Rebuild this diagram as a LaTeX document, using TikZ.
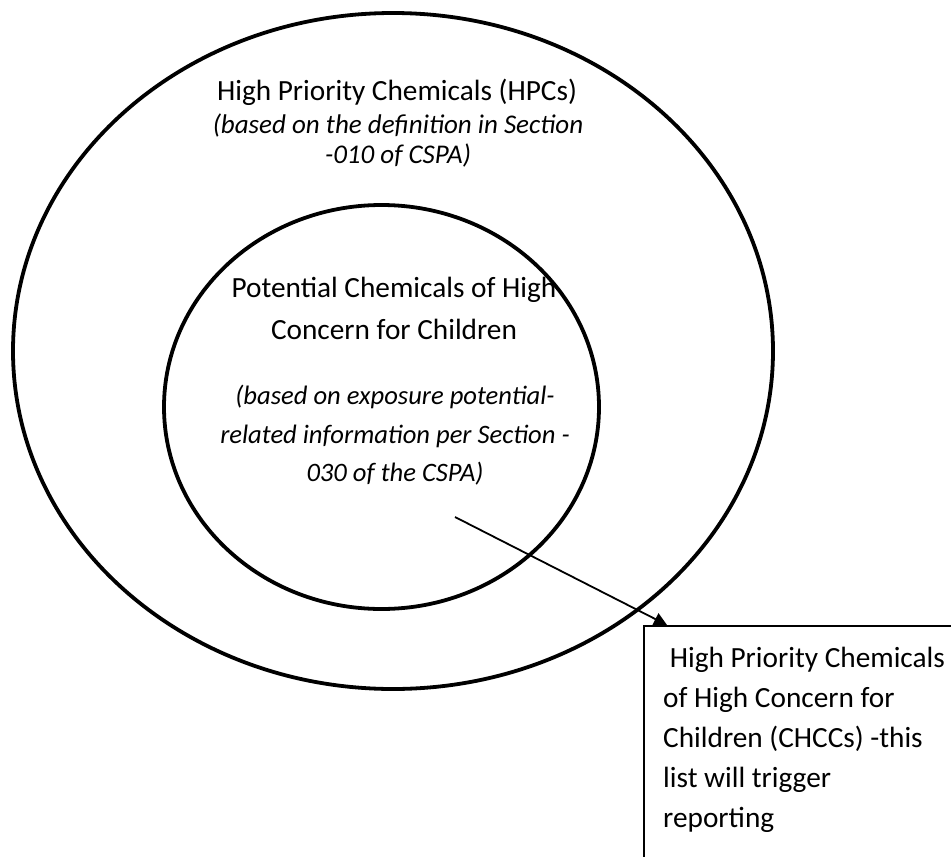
\documentclass[tikz,border=0pt]{standalone}
\usepackage{fontspec}
\setmainfont{Carlito}
\usepackage{tikz}
\usetikzlibrary{positioning, arrows.meta, shapes.geometric}
\tikzset{%
	>={Triangle[length = 13pt, width = 13pt]},
	every edge/.append style={line width = 1.8pt},
	ring/.style = {name = #1, ellipse, draw, line width = 3.8pt, inner sep = 0pt},
	txt/.style = {name = #1, align = center, inner sep = 0pt, anchor = north},
	listbox/.style = {name = #1, rectangle, draw, line width = 1.8pt, anchor = north west, minimum width = 420pt, minimum height = 300pt}
}

\begin{document}
\begin{tikzpicture}[x = 1pt, y = -1pt]
			\clip (0,0) rectangle (951,857);
			\node [ring = {hpc}, minimum width = 760pt, minimum height = 676pt] at (393,351) {};
			\node [ring = {pchcc}, minimum width = 435pt, minimum height = 404pt] at (381.5,407) {};
			\node [txt = {hpctext}, font = \fontsize{29.3}{32}\selectfont] at (397,79) {High Priority Chemicals (HPCs)};
			\node [txt = {hpcnote}, font = \fontsize{27}{29.5}\selectfont\itshape] at (398,114) {(based on the definition in Section\\-010 of CSPA)};
			\node [txt = {pchcctext}, font = \fontsize{29.3}{42}\selectfont] at (394,277) {Potential Chemicals of High\\Concern for Children};
			\node [txt = {pchccnote}, font = \fontsize{26.6}{38.5}\selectfont\itshape] at (395,385) {(based on exposure potential-\\related information per Section -\\030 of the CSPA)};
			\node [listbox = {chcc}] at (643,625) {};
			\node [txt = {chcctext}, anchor = north west, align = left, font = \fontsize{29.3}{40}\selectfont] at (663,647) {\ High Priority Chemicals\\of High Concern for\\Children (CHCCs) -this\\list will trigger\\reporting};
			\coordinate (src) at (455,517);
			\coordinate (tip) at ([xshift = 24pt]chcc.north west);
			\path [->] (src) edge (tip);
\end{tikzpicture}
\end{document}
